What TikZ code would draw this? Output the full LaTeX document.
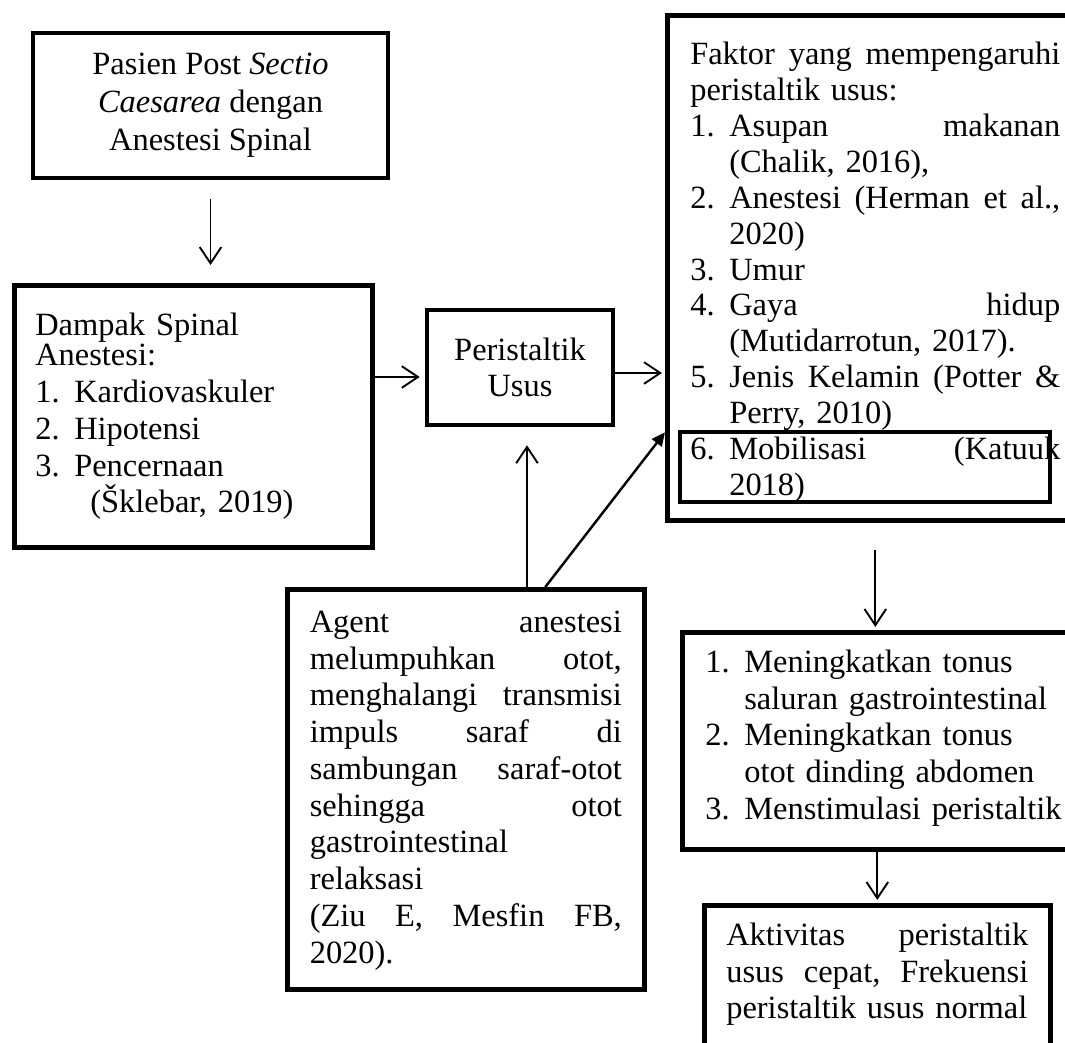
\documentclass[tikz,border=0pt]{standalone}
\usepackage{fontspec}
\setmainfont{Liberation Serif}
\usetikzlibrary{arrows.meta}
\newcommand{\nr}[1]{\makebox[0.507cm][l]{#1}}
\newcommand{\nrin}{\hspace*{0.507cm}}
\begin{document}
\begin{tikzpicture}[x=0.013cm,y=-0.013cm,
      font=\fontsize{12}{13.6}\selectfont,
      box/.style={draw,line width=1.7pt,inner sep=0pt,align=left},
      arr/.style={-{Straight Barb[length=6pt,width=8pt]},line width=0.7pt},
      arrf/.style={-{Triangle[length=5pt,width=4.5pt]},line width=0.9pt}]
      \useasboundingbox (0,0) rectangle (1065,1043) ;
      \clip (0,0) rectangle (1065,1043) ;
      \node[box,align=center,minimum width=4.615cm,minimum height=1.885cm,font=\fontsize{12}{14.1}\selectfont] %
      (P) at (210.5,105.5) {Pasien Post \textit{Sectio}\\ \textit{Caesarea} dengan\\ Anestesi Spinal} ;
      \node[box,anchor=north west,text width=4.108cm,inner xsep=0.273cm,text height=0.65cm,text depth=2.756cm] %
      (D) at (12,283) {Dampak Spinal\\[-0.08cm] Anestesi:\\ \nr{1.}Kardiovaskuler\\ \nr{2.}Hipotensi\\
        \nr{3.}Pencernaan\\ \hspace*{0.715cm}(Šklebar, 2019)} ;
      \node[box,align=center,minimum width=2.418cm,minimum height=1.495cm] %
      (U) at (520,367.5) {Peristaltik\\ Usus} ;
      \node[box,anchor=north west,text width=4.81cm,inner xsep=0.299cm,text height=0.637cm,text depth=5.928cm,
        font=\fontsize{12}{13.3}\selectfont] %
      (F) at (665,13) {Faktor\hfill yang\hfill mempengaruhi\\ peristaltik usus:\\
        \nr{1.}Asupan\hfill makanan\\ \nrin(Chalik, 2016),\\
        \nr{2.}Anestesi\hfill (Herman\hfill et\hfill al.,\\ \nrin 2020)\\
        \nr{3.}Umur\\
        \nr{4.}Gaya\hfill hidup\\ \nrin(Mutidarrotun, 2017).\\
        \nr{5.}Jenis\hfill Kelamin\hfill (Potter\hfill \&\\ \nrin Perry, 2010)\\
        \nr{6.}Mobilisasi\hfill (Katuuk\\ \nrin 2018)} ;
      \node[box,line width=1.5pt,anchor=north west,minimum width=4.81cm,minimum height=0.91cm] %
      (M) at (678,430) {} ;
      \node[box,anchor=north west,text width=4.056cm,inner xsep=0.2925cm,text height=0.559cm,text depth=4.641cm] %
      (A) at (285,587) {Agent\hfill anestesi\\ melumpuhkan\hfill otot,\\
        menghalangi\hfill transmisi\\ impuls\hfill saraf\hfill di\\
        sambungan\hfill saraf-otot\\ sehingga\hfill otot\\ gastrointestinal\\ relaksasi\\
        (Ziu\hfill E,\hfill Mesfin\hfill FB,\\ 2020).} ;
      \node[box,anchor=north west,text width=4.68cm,inner xsep=0.299cm,text height=0.52cm,text depth=2.301cm] %
      (T) at (680,630) {\nr{1.}Meningkatkan tonus\\ \nrin saluran gastrointestinal\\
        \nr{2.}Meningkatkan tonus\\ \nrin otot dinding abdomen\\ \nr{3.}Menstimulasi peristaltik} ;
      \node[box,anchor=north west,text width=3.926cm,inner xsep=0.286cm,text height=0.52cm,text depth=3cm] %
      (K) at (702,903) {Aktivitas\hfill peristaltik\\ usus\hfill cepat,\hfill Frekuensi\\
        peristaltik usus normal} ;
      \coordinate (du) at ([yshift=-0.1235cm]U.west) ;
      \coordinate (uf) at ([yshift=-0.0715cm]U.east) ;
      \coordinate (au) at ([xshift=0.091cm]U.south) ;
      \coordinate (ad) at ([xshift=1.0335cm]A.north) ;
      \coordinate (fd) at ([yshift=-2.1385cm]F.west) ;
      \draw[arr,shorten <=0.247cm,shorten >=0.234cm] (P) -- (P |- D.north) ;
      \draw[arr,shorten >=0.065cm] (du -| D.east) -- (du) ;
      \draw[arr,shorten >=0.04cm] (uf) -- (uf -| F.west) ;
      \draw[arr,shorten >=0.234cm] (au |- A.north) -- (au) ;
      \draw[arrf] (ad) -- (fd) ;
      \draw[arr,shorten <=0.351cm,shorten >=0.04cm] (F) -- (F |- T.north) ;
      \draw[arr,shorten >=0.04cm] (K |- T.south) -- (K.north) ;
    \end{tikzpicture}
\end{document}
